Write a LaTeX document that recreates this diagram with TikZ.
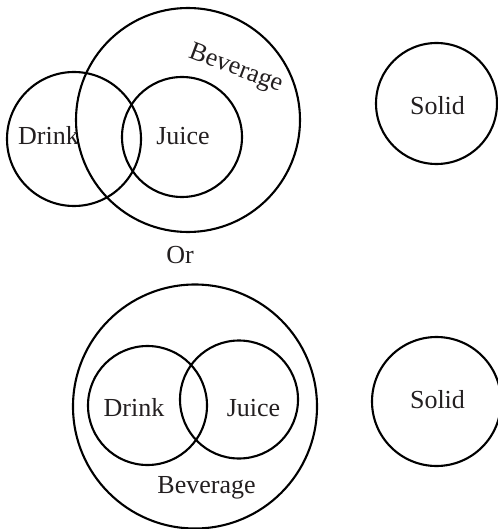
\documentclass[tikz,border=0pt]{standalone}
\usepackage{fontspec}
\setmainfont{Liberation Serif}
\definecolor{ink}{HTML}{231F20}
\tikzset{
  circ/.style={circle, draw=black, line width=2.1pt, inner sep=0pt, outer sep=0pt},
  lbl/.style={text=ink, inner sep=0pt, anchor=base, font=\fontsize{26}{30}\selectfont}
}
\begin{document}
\begin{tikzpicture}[x=1pt, y=-1pt]
\useasboundingbox (0,0) rectangle (497,529);
% top diagram
\node[circ, minimum size=224pt] (bev1) at (188,120) {};
\node[circ, minimum size=134pt] (drink1) at (74,139) {};
\node[circ, minimum size=120pt] (juice1) at (182,137) {};
\node[circ, minimum size=121pt] (solid1) at (436.5,103.5) {};
\node[lbl] (tdrink1) at (48.5,145) {Drink};
\node[lbl] (tjuice1) at (183,145) {Juice};
\node[lbl, rotate=-20.5] (tbev1) at (233.5,74.5) {Beverage};
\node[lbl] (tsolid1) at (437.5,114.3) {Solid};
% or
\node[lbl] (tor) at (180,263) {Or};
% bottom diagram
\node[circ, minimum size=244pt] (bev2) at (195,406.5) {};
\node[circ, minimum size=119pt] (drink2) at (147.5,405.5) {};
\node[circ, minimum size=118pt] (juice2) at (239,399.5) {};
\node[circ, minimum size=129pt] (solid2) at (436.5,401.5) {};
\node[lbl] (tdrink2) at (134,416.7) {Drink};
\node[lbl] (tjuice2) at (253.5,416.7) {Juice};
\node[lbl] (tbev2) at (206.5,493) {Beverage};
\node[lbl] (tsolid2) at (437.5,408.3) {Solid};
\end{tikzpicture}
\end{document}
